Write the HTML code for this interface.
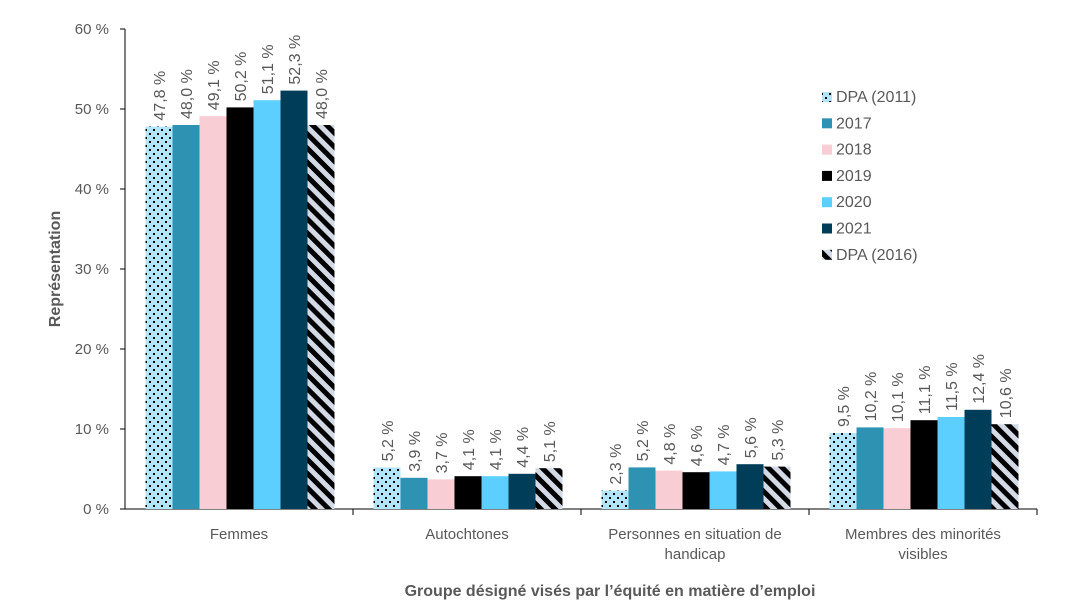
<!DOCTYPE html>
<html><head><meta charset="utf-8"><style>
body{margin:0;background:#fff;font-family:"Liberation Sans",sans-serif}
svg text{font-family:"Liberation Sans",sans-serif;fill:#595959}
</style></head><body>
<svg id="chart" width="1073" height="606" xmlns="http://www.w3.org/2000/svg">
<defs>
<pattern id="dots" width="8" height="8" patternUnits="userSpaceOnUse"><rect width="8" height="8" fill="#b3e5fa"/><rect x="1" y="1" width="2" height="2" fill="#000"/><rect x="5" y="5" width="2" height="2" fill="#000"/></pattern>
<pattern id="stripes" width="10" height="10" patternUnits="userSpaceOnUse" patternTransform="rotate(-45)"><rect width="10" height="10" fill="#d3dae6"/><rect width="5" height="10" fill="#000"/></pattern>
</defs>
<g id="grid"></g><g id="bars"></g><g id="labels"></g><g id="legend"></g>
<text transform="translate(60,269) rotate(-90)" text-anchor="middle" font-size="16" font-weight="bold">Représentation</text>
<text x="610" y="596" text-anchor="middle" font-size="16" font-weight="bold">Groupe désigné visés par l’équité en matière d’emploi</text>
</svg>
<script>
const categories=[["Femmes"],["Autochtones"],["Personnes en situation de","handicap"],["Membres des minorités","visibles"]];
const seriesNames=["DPA (2011)","2017","2018","2019","2020","2021","DPA (2016)"];
const dpa2011=[47.8,5.2,2.3,9.5];
const y2017=[48.0,3.9,5.2,10.2];
const y2018=[49.1,3.7,4.8,10.1];
const y2019=[50.2,4.1,4.6,11.1];
const y2020=[51.1,4.1,4.7,11.5];
const y2021=[52.3,4.4,5.6,12.4];
const dpa2016=[48.0,5.1,5.3,10.6];
const yTicks=[0,10,20,30,40,50,60];
const series=[dpa2011,y2017,y2018,y2019,y2020,y2021,dpa2016];
const fills=["url(#dots)","#2e93b3","#f8cdd3","#000000","#5ccfff","#003d58","url(#stripes)"];
const NS="http://www.w3.org/2000/svg";
const x0=125,x1=1037,yBase=509,yTop=29,yMax=60;
const y=v=>yBase-(v/yMax)*(yBase-yTop);
const gw=(x1-x0)/categories.length,bw=27,off=(gw-bw*7)/2+1;
function mk(t,a,p){const e=document.createElementNS(NS,t);for(const k in a)e.setAttribute(k,a[k]);p.appendChild(e);return e;}
const grid=document.getElementById('grid'),bars=document.getElementById('bars'),labels=document.getElementById('labels'),legend=document.getElementById('legend');
yTicks.forEach(t=>{
 const tx=mk('text',{x:109,y:y(t)+5,'text-anchor':'end','font-size':15},grid);
 
 
 tx.textContent=t+' %';
 const tk=mk('line',{x1:120,x2:125,y1:y(t),y2:y(t),stroke:'#000'},grid);
 
 
});
const ax=mk('line',{x1:125,x2:125,y1:yTop,y2:yBase,stroke:'#000'},grid);


const xa=mk('line',{x1:x0,x2:x1,y1:yBase,y2:yBase,stroke:'#000'},grid);


categories.forEach((c,i)=>{
 const gx=x0+i*gw;
 const tk=mk('line',{x1:gx+gw,x2:gx+gw,y1:yBase,y2:yBase+6,stroke:'#000'},grid);
 
 
 c.forEach((line,j)=>{
  const t=mk('text',{x:gx+gw/2,y:539+j*20,'text-anchor':'middle','font-size':15},grid);
  
  
  t.textContent=line;
 });
 series.forEach((s,k)=>{
  const bx=gx+off+k*bw,v=s[i];
  const r=mk('rect',{x:bx,y:y(v),width:bw,height:yBase-y(v),fill:fills[k]},bars);
  
  
  const lx=bx+bw/2+6,ly=y(v)-6;
  const t=mk('text',{x:lx,y:ly,transform:`rotate(-90 ${lx} ${ly})`,'font-size':16},labels);
  
  
  t.textContent=v.toFixed(1).replace('.',',')+' %';
 });
});
seriesNames.forEach((n,k)=>{
 const ly=97+k*26.3;
 const r=mk('rect',{x:822,y:ly-5,width:10,height:10,fill:fills[k]},legend);
 
 
 const t=mk('text',{x:836,y:ly+5,'font-size':16},legend);
 
 
 t.textContent=n;
});
</script>
</body></html>
